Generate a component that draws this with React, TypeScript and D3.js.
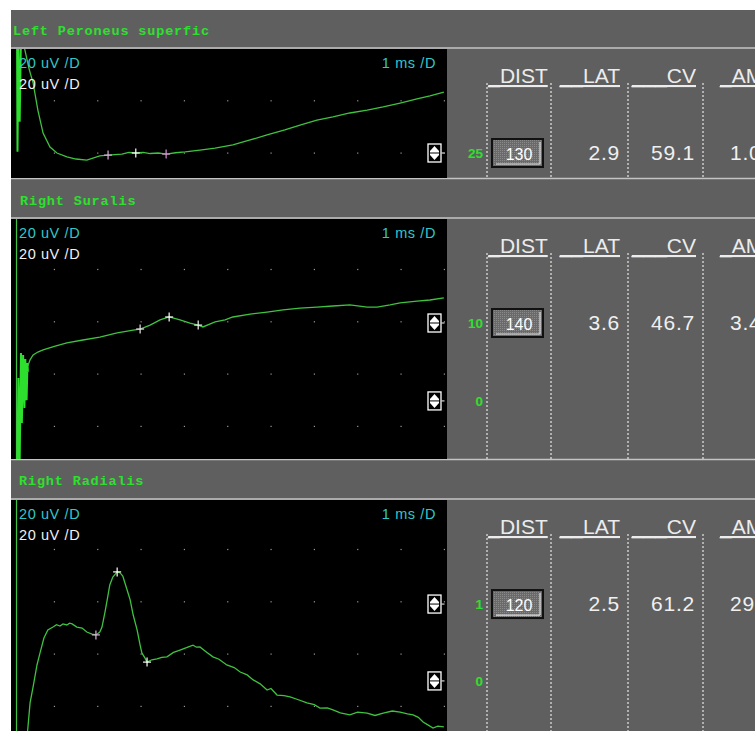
import React from "react";
import * as d3 from "d3";

// ---------- data ----------
const titles = ["Left Peroneus superfic", "Right Suralis", "Right Radialis"];
const sensLabel = "20 uV /D";
const timeLabel = "1 ms /D";
const headers = ["_DIST", "__LAT", "___CV", "_AMP"];
const distVals = ["130", "140", "120"];
const latVals = ["2.9", "3.6", "2.5"];
const cvVals = ["59.1", "46.7", "61.2"];
const ampVals = ["1.0", "3.4", "29"];
// cursor levels (uV) and their labels
const cursorLevels1 = [0];
const cursorLevels2 = [19.5, -10.3];
const cursorLevels3 = [19.1, -10.3];
const cursorLabels1 = ["25"];
const cursorLabels2 = ["10", "0"];
const cursorLabels3 = ["1", "0"];
const gridMs = [1, 2, 3, 4, 5, 6, 7, 8, 9, 10];
const gridUv = [-40, -20, 0, 20, 40];

// traces: [ms, uV]
const artifact1: [number, number][] = [
  [0.14, 45], [0.15, 0.5], [0.17, 40], [0.2, 12], [0.23, 45],
];
const trace1: [number, number][] = [
  [0.25, 45], [0.32, 39.4], [0.42, 32], [0.51, 26.8], [0.62, 16.4], [0.74, 7.6], [0.9, 2.3], [1.06, 0],
  [1.29, -1.5], [1.5, -2.3], [1.75, -2.7], [2.05, -1.1], [2.24, -0.8], [2.4, -0.6], [2.56, -0.4],
  [2.72, 0.2], [2.88, 0], [3.05, 0.2], [3.21, -0.2], [3.4, 0], [3.58, -0.4], [3.8, 0.1], [4.02, 0.4],
  [4.36, 1.1], [4.71, 1.9], [5.12, 3.1], [5.52, 5.0], [5.91, 6.9], [6.32, 8.8], [6.67, 10.7],
  [7.06, 12.6], [7.43, 13.8], [7.82, 15.3], [8.22, 16.4], [8.59, 17.6], [8.98, 19.1], [9.37, 20.7],
  [9.67, 21.8], [9.99, 23.3],
];
const markers1: [number, number][] = [[2.24, -0.8], [2.88, 0], [3.58, -0.4]];

const artifact2: [number, number][] = [
  [0.15, -34], [0.17, -1.5], [0.2, -34], [0.23, 8], [0.25, -18.7], [0.28, 7.3], [0.31, -13],
  [0.33, 5.7], [0.36, -10], [0.38, 4.2], [0.39, 0.8],
];
const trace2: [number, number][] = [
  [0.39, 3.1], [0.44, 5.4], [0.51, 7.3], [0.62, 8.4], [0.74, 9.2], [1.02, 10.7], [1.29, 11.9],
  [1.66, 13.0], [2.05, 14.1], [2.45, 15.7], [2.82, 16.8], [2.98, 17.2], [3.21, 18.7], [3.44, 20.7],
  [3.65, 21.8], [3.9, 20.7], [4.13, 19.5], [4.32, 18.7], [4.43, 18.0], [4.71, 19.9], [4.94, 20.7],
  [5.12, 21.8], [5.52, 22.9], [5.91, 23.7], [6.28, 24.5], [6.67, 25.2], [7.06, 25.6], [7.43, 26.0],
  [7.82, 26.4], [8.22, 25.6], [8.45, 25.6], [8.75, 26.4], [8.98, 27.2], [9.37, 27.9], [9.67, 28.3],
  [9.99, 29.1],
];
const markers2: [number, number][] = [[2.98, 17.2], [3.65, 21.8], [4.32, 18.7]];

const trace3: [number, number][] = [
  [0.37, -32], [0.44, -18.7], [0.51, -12.6], [0.6, -4.2], [0.67, 0.4], [0.76, 6.1], [0.85, 9.2],
  [0.97, 10.3], [1.05, 11.2], [1.13, 10.7], [1.2, 11.5], [1.29, 11.1], [1.35, 11.8], [1.41, 11.5],
  [1.52, 10.3], [1.64, 9.9], [1.75, 8.4], [1.87, 7.6], [1.96, 7.3], [2.05, 8.4], [2.1, 10.3],
  [2.17, 16.1], [2.22, 20.7], [2.28, 26.4], [2.35, 29.4], [2.45, 31.4], [2.52, 31.0], [2.58, 29.8],
  [2.68, 24.5], [2.75, 20.7], [2.82, 14.9], [2.91, 9.2], [2.98, 3.4], [3.02, 0.4], [3.09, -1.5],
  [3.14, -3.1], [3.25, -2.2], [3.37, -1.9], [3.48, -1.3], [3.6, -1.1], [3.75, 0.6], [3.9, 1.5],
  [4.05, 2.4], [4.2, 3.4], [4.28, 2.6], [4.36, 2.7], [4.5, 0.9], [4.66, -1.1], [4.8, -2.0],
  [4.98, -4.2], [5.15, -5.2], [5.29, -6.9], [5.45, -8.0], [5.59, -9.9], [5.75, -11.4], [5.91, -13.8],
  [6.0, -13.2], [6.14, -15.7], [6.3, -15.9], [6.44, -16.4], [6.6, -17.3], [6.83, -18.7],
  [7.0, -19.4], [7.13, -20.7], [7.3, -20.6], [7.43, -21.4], [7.6, -22.5], [7.82, -23.3],
  [8.0, -22.2], [8.22, -22.6], [8.4, -23.5], [8.59, -22.6], [8.8, -21.8], [8.98, -22.2],
  [9.15, -22.9], [9.28, -23.3], [9.4, -24.2], [9.51, -26.0], [9.62, -27.1], [9.74, -28.3],
  [9.85, -27.6], [9.99, -27.9],
];
const markers3: [number, number][] = [[1.96, 7.3], [2.45, 31.4], [3.14, -3.1]];

// ---------- layout ----------
const W = 755;
const H = 731;
const LEFT = 11;
const PLOT_R = 447;
const GRAY = "#5f5f5f";
const SEP = "#c4c4c4";
const GREEN = "#2ee02e";
const TRACE = "#3fc23f";
const CYAN = "#2fc8c8";

const panels = [
  { titleTop: 10, blackTop: 49, blackBottom: 178, zero: 153, titleX: 13, artifact: artifact1, trace: trace1, markers: markers1, markerColors: ["#e0a8e0", "#ffffff", "#d890d8"], levels: cursorLevels1, labels: cursorLabels1, startLine: false },
  { titleTop: 180, blackTop: 219, blackBottom: 459, zero: 374, titleX: 20, artifact: artifact2, trace: trace2, markers: markers2, markerColors: ["#e8e0e8", "#ffffff", "#f0f0f0"], levels: cursorLevels2, labels: cursorLabels2, startLine: true },
  { titleTop: 460, blackTop: 500, blackBottom: 731, zero: 654, titleX: 19, artifact: null as [number, number][] | null, trace: trace3, markers: markers3, markerColors: ["#e0b0e0", "#ffffff", "#ffffff"], levels: cursorLevels3, labels: cursorLabels3, startLine: true },
];

const x = d3.scaleLinear().domain([0, 10]).range([LEFT, 444.3]);

const Icon = ({ cx, cy }: { cx: number; cy: number }) => (
  <g>
    <rect x={cx - 6.5} y={cy - 9} width={13} height={18} fill="#000" stroke="#fff" strokeWidth={1.3} />
    <polygon
      points={`${cx},${cy - 7} ${cx + 4.5},${cy - 2} ${cx + 4.5},${cy + 2} ${cx},${cy + 7} ${cx - 4.5},${cy + 2} ${cx - 4.5},${cy - 2}`}
      fill="#fff"
    />
    <line x1={cx - 5} x2={cx + 5} y1={cy} y2={cy} stroke="#000" strokeWidth={1} />
    <line x1={cx + 7} x2={cx + 10} y1={cy} y2={cy} stroke="#fff" strokeWidth={1} />
  </g>
);

export default function App() {
  const headFont = "'Liberation Sans Narrow', 'Liberation Sans', Arial, sans-serif";
  const numFont = "'Liberation Sans', Arial, sans-serif";
  return (
    <svg width={W} height={H} style={{ position: "absolute", left: 0, top: 0 }} xmlns="http://www.w3.org/2000/svg">
      <defs>
        {panels.map((p, i) => (
          <clipPath id={`clip${i}`} key={i}>
            <rect x={LEFT} y={p.blackTop} width={PLOT_R - LEFT} height={p.blackBottom - p.blackTop} />
          </clipPath>
        ))}
        <pattern id="stipple" width="2" height="2" patternUnits="userSpaceOnUse">
          <rect width="2" height="2" fill="#6a6a6a" />
          <rect width="1" height="1" fill="#8a8a8a" />
        </pattern>
      </defs>
      <rect x={0} y={0} width={W} height={H} fill="#fff" />
      <rect x={LEFT} y={10} width={W - LEFT} height={H - 10} fill={GRAY} />
      {panels.map((p, i) => {
        const y = d3.scaleLinear().domain([0, 20]).range([p.zero, p.zero - 52.3]);
        const line = d3.line<[number, number]>().x((d) => x(d[0])).y((d) => y(d[1]));
        const tableTop = p.blackTop + 34;
        const colLines = [487, 551, 628, 703];
        const rowY = p.levels.map((l) => y(l));
        return (
          <g key={i}>
            <line x1={LEFT} x2={W} y1={p.blackTop - 1} y2={p.blackTop - 1} stroke={SEP} strokeWidth={1.5} />
            {i < 2 && <line x1={LEFT} x2={W} y1={p.blackBottom + 0.5} y2={p.blackBottom + 0.5} stroke={SEP} strokeWidth={1.5} />}
            <text x={p.titleX} y={p.titleTop + 25} fill={GREEN} fontFamily="'Liberation Mono', 'DejaVu Sans Mono', monospace" fontWeight="bold" fontSize={13.5} letterSpacing={0.85}>
              {titles[i]}
            </text>
            <rect x={LEFT} y={p.blackTop} width={PLOT_R - LEFT} height={p.blackBottom - p.blackTop} fill="#000" />
            {gridUv
              .filter((u) => y(u) > p.blackTop + 2 && y(u) < p.blackBottom - 2)
              .map((u) =>
                gridMs.map((m) => (
                  <rect key={`${u}-${m}`} x={x(m) - 0.5} y={y(u) - 0.5} width={1.2} height={1.2} fill="#9a9a9a" />
                ))
              )}
            {p.startLine && (
              <line x1={16.5} x2={16.5} y1={p.blackTop} y2={p.blackBottom} stroke={TRACE} strokeWidth={1.2} />
            )}
            <g clipPath={`url(#clip${i})`}>
              {p.artifact && <path d={line(p.artifact) || ""} fill="none" stroke={GREEN} strokeWidth={2} />}
              <path d={line(p.trace) || ""} fill="none" stroke={TRACE} strokeWidth={1.3} />
              {p.markers.map((m, k) => (
                <g key={k} stroke={p.markerColors[k]} strokeWidth={1.2}>
                  <line x1={x(m[0]) - 4} x2={x(m[0]) + 4} y1={y(m[1])} y2={y(m[1])} />
                  <line x1={x(m[0])} x2={x(m[0])} y1={y(m[1]) - 4.5} y2={y(m[1]) + 4.5} />
                </g>
              ))}
            </g>
            <text x={19} y={p.blackTop + 19} fill={CYAN} fontFamily={numFont} fontSize={14.5} letterSpacing={0.6}>
              {sensLabel}
            </text>
            <text x={19} y={p.blackTop + 40} fill="#f2f2f2" fontFamily={numFont} fontSize={14.5} letterSpacing={0.6}>
              {sensLabel}
            </text>
            <text x={436} y={p.blackTop + 19} fill={CYAN} fontFamily={numFont} fontSize={14.5} textAnchor="end" letterSpacing={0.6}>
              {timeLabel}
            </text>
            {rowY.map((ry, k) => (
              <Icon key={k} cx={434.5} cy={ry} />
            ))}
            {colLines.map((cx) => (
              <line key={cx} x1={cx} x2={cx} y1={tableTop} y2={p.blackBottom} stroke="#e6e6e6" strokeWidth={1.2} strokeDasharray="2 2" />
            ))}
            <text x={518} y={tableTop} fill="#ececec" fontFamily={headFont} fontSize={21} textAnchor="middle" textDecoration="underline">
              {headers[0]}
            </text>
            <text x={620} y={tableTop} fill="#ececec" fontFamily={headFont} fontSize={21} textAnchor="end" textDecoration="underline">
              {headers[1]}
            </text>
            <text x={696} y={tableTop} fill="#ececec" fontFamily={headFont} fontSize={21} textAnchor="end" textDecoration="underline">
              {headers[2]}
            </text>
            <text x={720} y={tableTop} fill="#ececec" fontFamily={headFont} fontSize={21} textDecoration="underline">
              {headers[3]}
            </text>
            {rowY.map((ry, k) => (
              <text key={k} x={483} y={ry + 5} fill={GREEN} fontFamily={numFont} fontWeight="bold" fontSize={13.5} textAnchor="end">
                {p.labels[k]}
              </text>
            ))}
            <rect x={492} y={rowY[0] - 14} width={51} height={28} fill="url(#stipple)" stroke="#111" strokeWidth={2} />
            <line x1={540} x2={540} y1={rowY[0] - 11} y2={rowY[0] + 11} stroke="#e0e0e0" strokeWidth={1.2} />
            <line x1={496} x2={540} y1={rowY[0] + 11} y2={rowY[0] + 11} stroke="#e0e0e0" strokeWidth={1.2} />
            <text x={519} y={rowY[0] + 7} fill="#fff" fontFamily={numFont} fontSize={16} textAnchor="middle">
              {distVals[i]}
            </text>
            <text x={620} y={rowY[0] + 7} fill="#f0f0f0" fontFamily={numFont} fontSize={21} textAnchor="end" letterSpacing={0.8}>
              {latVals[i]}
            </text>
            <text x={695} y={rowY[0] + 7} fill="#f0f0f0" fontFamily={numFont} fontSize={21} textAnchor="end" letterSpacing={0.8}>
              {cvVals[i]}
            </text>
            <text x={730} y={rowY[0] + 7} fill="#f0f0f0" fontFamily={numFont} fontSize={21} letterSpacing={0.8}>
              {ampVals[i]}
            </text>
          </g>
        );
      })}
    </svg>
  );
}
